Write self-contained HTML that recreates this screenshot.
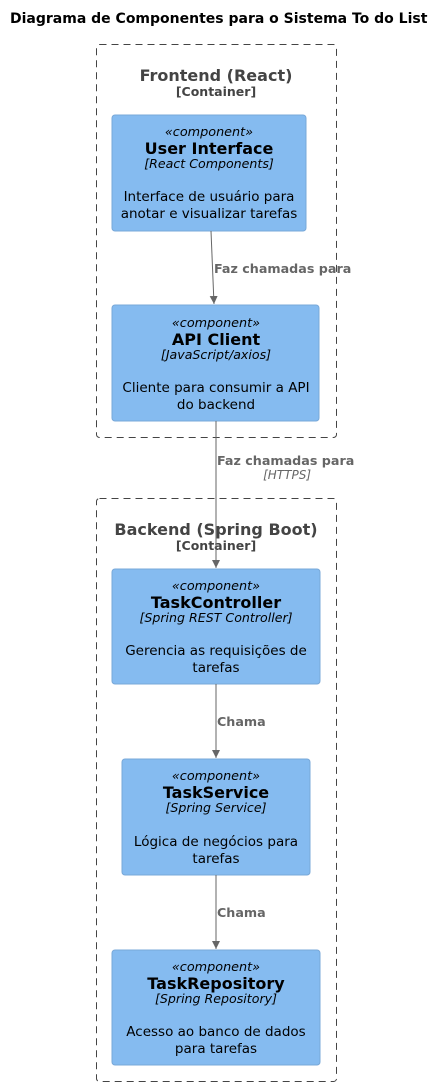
<!DOCTYPE html><html><head><style>body{margin:0;background:#fff}svg{display:block;font-family:"DejaVu Sans","Liberation Sans",sans-serif}</style></head><body>
<svg width="445" height="1086" xmlns="http://www.w3.org/2000/svg">
<defs><marker id="a" markerWidth="10" markerHeight="10" refX="8" refY="4" orient="auto" markerUnits="userSpaceOnUse"><path d="M0,0 L8,4 L0,8 Z" fill="#666"/></marker></defs>
<text x="10" y="23" font-size="14" font-weight="bold">Diagrama de Componentes para o Sistema To do List</text>
<rect x="96.5" y="44.5" width="240" height="393" rx="3" fill="none" stroke="#444" stroke-dasharray="7,5"/>
<rect x="96.5" y="498.5" width="240" height="583" rx="3" fill="none" stroke="#444" stroke-dasharray="7,5"/>
<g fill="#444" text-anchor="middle" font-weight="bold">
<text x="216" y="81" font-size="16">Frontend (React)</text>
<text x="216" y="96" font-size="12.5">[Container]</text>
<text x="216" y="535" font-size="16">Backend (Spring Boot)</text>
<text x="216" y="550" font-size="12.5">[Container]</text>
</g>
<g fill="#85bbf0" stroke="#78a8d8">
<rect x="112" y="115" width="194" height="116" rx="3"/>
<rect x="112" y="305" width="207" height="116" rx="3"/>
<rect x="112" y="569" width="208" height="115" rx="3"/>
<rect x="122" y="759" width="188" height="116" rx="3"/>
<rect x="112" y="950" width="208" height="115" rx="3"/>
</g>
<g text-anchor="middle" fill="#000">
<text x="209" y="136" font-size="12.8" font-style="italic">«component»</text>
<text x="209" y="154" font-size="16" font-weight="bold">User Interface</text>
<text x="209" y="168" font-size="12.6" font-style="italic">[React Components]</text>
<text x="209" y="201" font-size="13.5">Interface de usuário para</text>
<text x="209" y="218" font-size="13.5">anotar e visualizar tarefas</text>
<text x="216" y="327" font-size="12.8" font-style="italic">«component»</text>
<text x="216" y="345" font-size="16" font-weight="bold">API Client</text>
<text x="216" y="359" font-size="12.6" font-style="italic">[JavaScript/axios]</text>
<text x="216" y="392" font-size="13.5">Cliente para consumir a API</text>
<text x="216" y="409" font-size="13.5">do backend</text>
<text x="216" y="590" font-size="12.8" font-style="italic">«component»</text>
<text x="216" y="608" font-size="16" font-weight="bold">TaskController</text>
<text x="216" y="622" font-size="12.6" font-style="italic">[Spring REST Controller]</text>
<text x="216" y="655" font-size="13.5">Gerencia as requisições de</text>
<text x="216" y="672" font-size="13.5">tarefas</text>
<text x="216" y="780" font-size="12.8" font-style="italic">«component»</text>
<text x="216" y="798" font-size="16" font-weight="bold">TaskService</text>
<text x="216" y="812" font-size="12.6" font-style="italic">[Spring Service]</text>
<text x="216" y="846" font-size="13.5">Lógica de negócios para</text>
<text x="216" y="863" font-size="13.5">tarefas</text>
<text x="216" y="971" font-size="12.8" font-style="italic">«component»</text>
<text x="216" y="989" font-size="16" font-weight="bold">TaskRepository</text>
<text x="216" y="1003" font-size="12.6" font-style="italic">[Spring Repository]</text>
<text x="216" y="1036" font-size="13.5">Acesso ao banco de dados</text>
<text x="216" y="1053" font-size="13.5">para tarefas</text>
</g>
<g stroke="#666" fill="none" marker-end="url(#a)">
<line x1="211" y1="231" x2="214" y2="304"/>
<line x1="216" y1="421" x2="216" y2="568"/>
<line x1="216" y1="684" x2="216" y2="758"/>
<line x1="216" y1="875" x2="216" y2="949"/>
</g>
<g fill="#666" font-size="12.7" font-weight="bold">
<text x="214" y="273">Faz chamadas para</text>
<text x="217" y="465">Faz chamadas para</text>
<text x="311" y="479" font-weight="normal" font-style="italic" text-anchor="end" font-size="12">[HTTPS]</text>
<text x="217" y="726">Chama</text>
<text x="217" y="917">Chama</text>
</g>
</svg></body></html>
